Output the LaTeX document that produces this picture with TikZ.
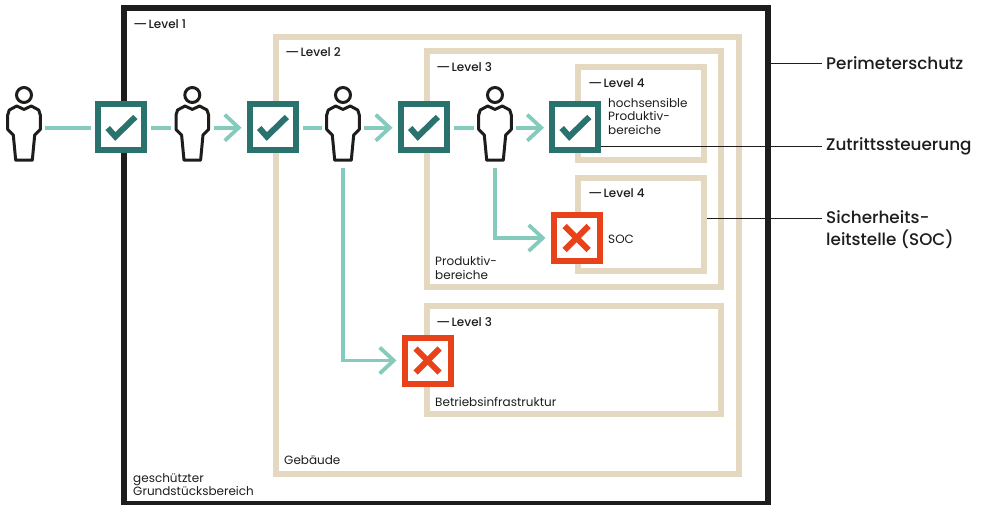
\documentclass[tikz,border=0pt]{standalone}
\usepackage{fontspec}
\setmainfont{Poppins}
\newfontfamily\medfont{Poppins Medium}
\usetikzlibrary{arrows.meta}
\definecolor{inkblack}{HTML}{1D1D1B}
\definecolor{sand}{HTML}{E4D8C1}
\definecolor{petrol}{HTML}{2A726D}
\definecolor{mint}{HTML}{84CBBD}
\definecolor{signalred}{HTML}{E8421A}
\newcommand{\lvldash}{\scalebox{1.3}[1]{—}\hspace{1pt}}
\tikzset{
	frameblack/.style={draw=inkblack,line width=6pt,inner sep=0pt},
	framesand/.style={draw=sand,line width=6pt,inner sep=0pt},
	okbox/.style={draw=petrol,fill=white,line width=6pt,minimum size=46pt,inner sep=0pt},
	nobox/.style={draw=signalred,fill=white,line width=6pt,minimum size=46pt,inner sep=0pt},
	okmark/.style={draw=petrol,line width=6pt},
	nomark/.style={draw=signalred,line width=6pt},
	link/.style={draw=mint,line width=3.8pt},
	linkarrow/.style={link,-{Straight Barb[length=14pt,width=26pt]}},
	lead/.style={draw=inkblack,line width=1pt},
	txt/.style={anchor=west,inner sep=0pt,text=inkblack,font=\fontsize{12}{13.5}\selectfont,align=left},
	lvl/.style={txt,font=\medfont\fontsize{12}{13.5}\selectfont},
	side/.style={anchor=west,inner sep=0pt,text=inkblack,font=\medfont\fontsize{16.8}{22}\selectfont,align=left},
	person/.pic={
		\node[minimum width=36pt,minimum height=68pt,inner sep=0pt] (-body) at (0,0) {};
		\draw[inkblack,line width=3pt] (0,-32.7) circle (7.5);
		\draw[inkblack,line width=3pt,line join=round] (0,-18.3)--(-7.3,-21.7)--(-14.7,-17.7)--(-16.3,-12.7)--(-16.3,1.7)--(-10.7,7.3)--(-8.3,32.5)--(8.3,32.5)--(10.7,7.3)--(16.3,1.7)--(16.3,-12.7)--(14.7,-17.7)--(7.3,-21.7)--cycle;
	}
}
\begin{document}
\begin{tikzpicture}[x=1pt,y=-1pt]
	\useasboundingbox (0,0) rectangle (982,505);
	
	%FRAMES
	\node[framesand,minimum width=463pt,minimum height=437pt] (lvlb) at (507.5,255.5) {};
	\node[framesand,minimum width=294pt,minimum height=236pt] (lvlca) at (574,169) {};
	\node[framesand,minimum width=294pt,minimum height=108pt] (lvlcb) at (574,360) {};
	\node[framesand,minimum width=126pt,minimum height=93pt] (lvlda) at (641,113.5) {};
	\node[framesand,minimum width=126pt,minimum height=93pt] (lvldb) at (641,224.5) {};
	\node[frameblack,minimum width=644pt,minimum height=496pt] (lvla) at (446,256) {};
	
	%PERSONS
	\pic (pa) at (24,127.7) {person};
	\pic (pb) at (192.3,127.7) {person};
	\pic (pc) at (343,127.7) {person};
	\pic (pd) at (495,127.7) {person};
	
	%GATES
	\node[okbox] (oka) at (121,127) {};
	\node[okbox] (okb) at (272.5,127) {};
	\node[okbox] (okc) at (423.5,127) {};
	\node[okbox] (okd) at (575,127) {};
	\node[nobox] (noa) at (576.5,238) {};
	\node[nobox] (nob) at (427.5,360.5) {};
	\foreach \n in {oka,okb,okc,okd}
		\draw[okmark] ([shift={(-13.3,1)}]\n.center)--([shift={(-5.7,9.5)}]\n.center)--([shift={(14.3,-10)}]\n.center);
	\foreach \n in {noa,nob}{
		\draw[nomark] ([shift={(-12,-12)}]\n.center)--([shift={(12,12)}]\n.center);
		\draw[nomark] ([shift={(-12,12)}]\n.center)--([shift={(12,-12)}]\n.center);
	}
	
	%LINKS
	\draw[link,shorten <=3pt,shorten >=4pt] (pa-body.east)--(pa-body.east -| oka.west);
	\draw[link,shorten <=4pt,shorten >=3pt] (pb-body.west -| oka.east)--(pb-body.west);
	\draw[linkarrow,shorten <=3pt,shorten >=5pt] (pb-body.east)--(pb-body.east -| okb.west);
	\draw[link,shorten <=4pt,shorten >=3pt] (pc-body.west -| okb.east)--(pc-body.west);
	\draw[linkarrow,shorten <=3pt,shorten >=5pt] (pc-body.east)--(pc-body.east -| okc.west);
	\draw[link,shorten <=4pt,shorten >=3pt] (pd-body.west -| okc.east)--(pd-body.west);
	\draw[linkarrow,shorten <=3pt,shorten >=5pt] (pd-body.east)--(pd-body.east -| okd.west);
	\draw[linkarrow,shorten <=6pt,shorten >=5pt] (pd-body.south)|-(noa.west);
	\draw[linkarrow,shorten <=6pt,shorten >=5pt] (pc-body.south)|-(nob.west);
	
	%LABELS
	\node[lvl] (tla) at (133,24) {\lvldash Level 1};
	\node[lvl] (tlb) at (285,52) {\lvldash Level 2};
	\node[lvl] (tlca) at (436,67) {\lvldash Level 3};
	\node[lvl] (tlcb) at (436,322) {\lvldash Level 3};
	\node[lvl] (tlda) at (588,83) {\lvldash Level 4};
	\node[lvl] (tldb) at (588,193) {\lvldash Level 4};
	\node[txt] (thoch) at (608,116) {hochsensible\\Produktiv-\\bereiche};
	\node[txt] (tsoc) at (608,239.5) {SOC};
	\node[txt] (tprod) at (435,268) {Produktiv-\\bereiche};
	\node[txt] (tbetr) at (435,401.5) {Betriebsinfrastruktur};
	\node[txt] (tgeb) at (284,460.5) {Gebäude};
	\node[txt] (tgrund) at (133,484.5) {geschützter\\Grundstücksbereich};
	
	%SIDE LABELS
	\node[side] (sperim) at (826,63.5) {Perimeterschutz};
	\node[side] (szutr) at (826,146.5) {Zutrittssteuerung};
	\node[side] (ssich) at (826,229.5) {Sicherheits-\\leitstelle (SOC)};
	\coordinate (leadsoc) at (822,218);
	\draw[lead,shorten >=4pt] (sperim.west -| lvla.east)--(sperim.west);
	\draw[lead,shorten >=4pt] (szutr.west -| okd.east)--(szutr.west);
	\draw[lead] (leadsoc -| lvldb.east)--(leadsoc);
\end{tikzpicture}
\end{document}
